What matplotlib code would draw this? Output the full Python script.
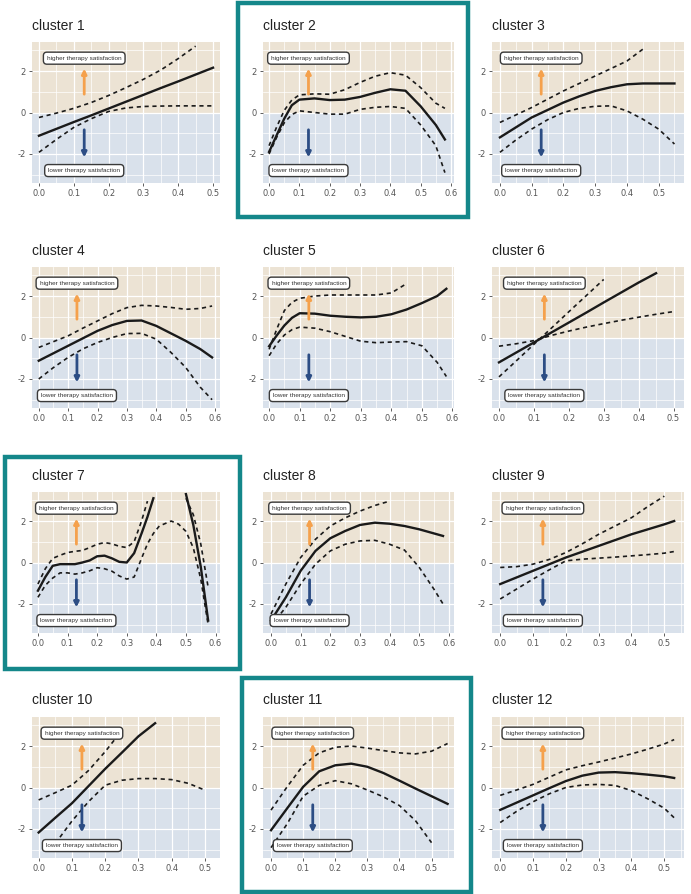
import numpy as np
import matplotlib
matplotlib.use('Agg')
import matplotlib.pyplot as plt
from matplotlib.patches import Rectangle

nan = np.nan

### DATA ###

titles = ['cluster %d' % i for i in range(1, 13)]
highlighted = [2, 7, 11]
y_ticks = [-2, 0, 2]
top_label = 'higher therapy satisfaction'
bottom_label = 'lower therapy satisfaction'

x_c1 = [0.0, 0.05, 0.1, 0.15, 0.2, 0.25, 0.3, 0.35, 0.4, 0.45, 0.5]
est_c1 = [-1.12, -0.79, -0.46, -0.14, 0.19, 0.52, 0.85, 1.18, 1.5, 1.83, 2.16]
lo_c1 = [-1.92, -1.3, -0.72, -0.3, 0.05, 0.22, 0.29, 0.31, 0.32, 0.32, 0.32]
hi_c1 = [-0.24, -0.03, 0.2, 0.48, 0.82, 1.2, 1.6, 2.05, 2.6, 3.2, nan]

x_c2 = [0.0, 0.025, 0.05, 0.075, 0.1, 0.15, 0.2, 0.25, 0.3, 0.35, 0.4, 0.45, 0.5, 0.55, 0.58]
est_c2 = [-1.9, -1.1, -0.3, 0.35, 0.62, 0.68, 0.6, 0.62, 0.75, 0.95, 1.12, 1.05, 0.3, -0.6, -1.3]
lo_c2 = [-2.0, -1.2, -0.5, -0.1, 0.08, 0.0, -0.08, -0.08, 0.15, 0.25, 0.29, 0.2, -0.6, -1.6, -2.9]
hi_c2 = [-1.6, -0.7, 0.1, 0.6, 0.85, 0.9, 0.88, 1.1, 1.45, 1.75, 1.92, 1.8, 1.2, 0.45, 0.2]

x_c3 = [0.0, 0.05, 0.1, 0.15, 0.2, 0.25, 0.3, 0.35, 0.4, 0.45, 0.5, 0.55]
est_c3 = [-1.2, -0.72, -0.24, 0.12, 0.48, 0.78, 1.04, 1.22, 1.36, 1.4, 1.4, 1.4]
lo_c3 = [-1.92, -1.33, -0.8, -0.35, 0.0, 0.2, 0.3, 0.32, 0.08, -0.32, -0.8, -1.52]
hi_c3 = [-0.48, -0.12, 0.24, 0.64, 1.04, 1.4, 1.76, 2.12, 2.48, 3.05, nan, nan]

x_c4 = [0.0, 0.05, 0.1, 0.15, 0.2, 0.25, 0.3, 0.35, 0.4, 0.45, 0.5, 0.55, 0.59]
est_c4 = [-1.12, -0.76, -0.4, -0.04, 0.32, 0.6, 0.8, 0.82, 0.56, 0.2, -0.16, -0.56, -0.96]
lo_c4 = [-2.0, -1.45, -0.96, -0.55, -0.24, 0.0, 0.19, 0.2, -0.08, -0.72, -1.44, -2.4, -3.0]
hi_c4 = [-0.48, -0.2, 0.08, 0.45, 0.8, 1.15, 1.44, 1.55, 1.52, 1.45, 1.36, 1.4, 1.52]

x_c5 = [0.0, 0.025, 0.05, 0.075, 0.1, 0.15, 0.2, 0.25, 0.3, 0.35, 0.4, 0.45, 0.5, 0.55, 0.58]
est_c5 = [-0.42, 0.1, 0.58, 0.95, 1.17, 1.15, 1.05, 1.0, 0.97, 1.0, 1.12, 1.35, 1.66, 2.0, 2.35]
lo_c5 = [-0.88, -0.3, 0.12, 0.38, 0.5, 0.45, 0.28, 0.05, -0.18, -0.25, -0.22, -0.2, -0.4, -1.2, -1.88]
hi_c5 = [-0.57, 0.4, 1.3, 1.7, 1.89, 2.0, 2.05, 2.05, 2.05, 2.05, 2.15, 2.6, nan, nan, nan]

x_c6 = [0.0, 0.05, 0.1, 0.15, 0.2, 0.25, 0.3, 0.35, 0.4, 0.45, 0.5]
est_c6 = [-1.2, -0.72, -0.24, 0.24, 0.72, 1.2, 1.69, 2.17, 2.65, 3.1, nan]
lo_c6 = [-0.42, -0.3, -0.15, 0.1, 0.31, 0.5, 0.67, 0.83, 0.98, 1.12, 1.25]
hi_c6 = [-1.9, -1.12, -0.33, 0.45, 1.24, 2.02, 2.8, nan, nan, nan, nan]

x_c7 = [0.0, 0.025, 0.05, 0.075, 0.1, 0.125, 0.15, 0.175, 0.2, 0.225, 0.25, 0.275,
        0.3, 0.325, 0.35, 0.37, 0.39, 0.41, 0.45, 0.475, 0.5, 0.525, 0.55, 0.575]
est_c7 = [-1.36, -0.7, -0.16, -0.08, -0.08, -0.08, 0.0, 0.1, 0.3, 0.33, 0.2, 0.03,
          0.0, 0.45, 1.4, 2.2, 3.1, nan, nan, nan, 3.3, 1.8, -0.2, -2.8]
lo_c7 = [-1.68, -1.1, -0.75, -0.5, -0.5, -0.56, -0.5, -0.4, -0.25, -0.3, -0.42, -0.65,
         -0.8, -0.7, 0.2, 0.9, 1.4, 1.76, 2.0, 1.85, 1.5, 0.7, -0.8, -3.0]
hi_c7 = [-1.04, -0.3, 0.2, 0.35, 0.48, 0.54, 0.58, 0.72, 0.88, 0.96, 0.9, 0.78,
         0.72, 1.0, 2.0, 2.96, nan, nan, nan, nan, 3.1, 2.3, 0.9, -1.2]

x_c8 = [0.0, 0.05, 0.1, 0.15, 0.2, 0.25, 0.3, 0.35, 0.4, 0.45, 0.5, 0.55, 0.58]
est_c8 = [-2.8, -1.68, -0.4, 0.56, 1.17, 1.52, 1.81, 1.92, 1.87, 1.76, 1.6, 1.4, 1.28]
lo_c8 = [-3.04, -2.16, -1.04, -0.08, 0.56, 0.88, 1.04, 1.07, 0.88, 0.6, -0.24, -1.3, -2.0]
hi_c8 = [-2.48, -1.04, 0.24, 1.12, 1.76, 2.15, 2.48, 2.75, 2.96, nan, nan, nan, nan]

x_c9 = [0.0, 0.05, 0.1, 0.15, 0.2, 0.25, 0.3, 0.35, 0.4, 0.45, 0.5, 0.53]
est_c9 = [-1.04, -0.72, -0.4, -0.08, 0.24, 0.52, 0.8, 1.08, 1.36, 1.6, 1.84, 2.0]
lo_c9 = [-1.76, -1.28, -0.8, -0.35, 0.08, 0.16, 0.21, 0.26, 0.32, 0.38, 0.45, 0.53]
hi_c9 = [-0.24, -0.2, -0.08, 0.15, 0.48, 0.9, 1.36, 1.76, 2.16, 2.7, 3.2, nan]

x_c10 = [0.0, 0.05, 0.1, 0.15, 0.2, 0.25, 0.3, 0.35, 0.4, 0.45, 0.5]
est_c10 = [-2.17, -1.46, -0.76, 0.07, 0.9, 1.68, 2.47, 3.1, nan, nan, nan]
lo_c10 = [nan, -2.7, -1.62, -0.68, 0.11, 0.35, 0.43, 0.43, 0.38, 0.2, -0.13]
hi_c10 = [-0.6, -0.25, 0.11, 0.82, 1.73, 2.75, nan, nan, nan, nan, nan]

x_c11 = [0.0, 0.05, 0.1, 0.15, 0.2, 0.25, 0.3, 0.35, 0.4, 0.45, 0.5, 0.55]
est_c11 = [-2.06, -1.01, 0.03, 0.78, 1.07, 1.15, 1.0, 0.7, 0.33, -0.05, -0.42, -0.79]
lo_c11 = [-2.9, -1.76, -0.42, 0.1, 0.33, 0.18, -0.12, -0.45, -0.87, -1.6, -2.66, nan]
hi_c11 = [-1.09, 0.03, 1.07, 1.67, 1.94, 2.0, 1.9, 1.78, 1.67, 1.62, 1.75, 2.12]

x_c12 = [0.0, 0.05, 0.1, 0.15, 0.2, 0.25, 0.3, 0.35, 0.4, 0.45, 0.5, 0.53]
est_c12 = [-1.08, -0.73, -0.38, -0.03, 0.31, 0.57, 0.72, 0.74, 0.69, 0.62, 0.54, 0.46]
lo_c12 = [-1.69, -1.15, -0.69, -0.3, 0.0, 0.12, 0.15, 0.1, -0.15, -0.55, -1.0, -1.46]
hi_c12 = [-0.38, -0.12, 0.15, 0.5, 0.85, 1.05, 1.23, 1.42, 1.62, 1.85, 2.1, 2.31]

x_max_tick = [0.5, 0.6, 0.5, 0.6, 0.6, 0.5, 0.6, 0.6, 0.5, 0.5, 0.5, 0.5]

### LAYOUT ###

W, H = 691, 894
cols = [(32, 220), (263, 454), (492, 684)]
rows = [(42, 183), (267, 408), (492, 633), (717, 858)]
xlims = [(-0.02, 0.52), (-0.02, 0.61), (-0.025, 0.58), (-0.023, 0.617),
         (-0.02, 0.605), (-0.02, 0.53), (-0.02, 0.615), (-0.027, 0.617),
         (-0.025, 0.56), (-0.02, 0.545), (-0.025, 0.57), (-0.025, 0.56)]
ylim = (-3.4, 3.4)
frames = {2: (238, 3, 468, 217), 7: (5, 457, 240, 669), 11: (242, 678, 471, 892)}

tan = '#ece3d4'
blue = '#d9e1eb'
teal = '#14878a'
orange = '#f5a14c'
navy = '#2c4d84'
arrow_x = 0.13

curves = [(x_c1, est_c1, lo_c1, hi_c1), (x_c2, est_c2, lo_c2, hi_c2),
          (x_c3, est_c3, lo_c3, hi_c3), (x_c4, est_c4, lo_c4, hi_c4),
          (x_c5, est_c5, lo_c5, hi_c5), (x_c6, est_c6, lo_c6, hi_c6),
          (x_c7, est_c7, lo_c7, hi_c7), (x_c8, est_c8, lo_c8, hi_c8),
          (x_c9, est_c9, lo_c9, hi_c9), (x_c10, est_c10, lo_c10, hi_c10),
          (x_c11, est_c11, lo_c11, hi_c11), (x_c12, est_c12, lo_c12, hi_c12)]

narrow = ['Liberation Sans Narrow', 'Liberation Sans', 'DejaVu Sans']

fig = plt.figure(figsize=(W / 100, H / 100), dpi=100)
fig.patch.set_facecolor('white')

for i, (x, est, lo, hi) in enumerate(curves):
    r, c = divmod(i, 3)
    x0, x1 = cols[c]
    y0, y1 = rows[r]
    ax = fig.add_axes([x0 / W, 1 - y1 / H, (x1 - x0) / W, (y1 - y0) / H])
    ax.set_xlim(*xlims[i])
    ax.set_ylim(*ylim)
    # background halves
    ax.axhspan(0, ylim[1], color=tan, lw=0, zorder=0)
    ax.axhspan(ylim[0], 0, color=blue, lw=0, zorder=0)
    ticks = np.round(np.arange(0, x_max_tick[i] + 0.001, 0.1), 1)
    ax.set_xticks(ticks)
    ax.set_xticklabels(['%.1f' % t for t in ticks])
    ax.set_xticks(np.arange(0.05, xlims[i][1], 0.1), minor=True)
    ax.set_yticks(y_ticks)
    ax.set_yticklabels([str(t) for t in y_ticks])
    ax.set_yticks([-3, -1, 1, 3], minor=True)
    ax.grid(True, which='major', color='white', lw=0.9, zorder=1)
    ax.grid(True, which='minor', color='white', lw=0.5, zorder=1)
    ax.set_axisbelow(True)
    for s in ax.spines.values():
        s.set_visible(False)
    ax.tick_params(which='major', length=2.5, width=0.6, color='#444444',
                   labelsize=6, labelcolor='#555555', pad=2)
    ax.tick_params(which='minor', length=0)

    # estimate and confidence band
    ax.plot(x, est, color='#1a1a1a', lw=1.7, zorder=3)
    ax.plot(x, lo, color='#1a1a1a', lw=1.2, ls=(0, (2.5, 2.2)), zorder=3)
    ax.plot(x, hi, color='#1a1a1a', lw=1.2, ls=(0, (2.5, 2.2)), zorder=3)

    # direction arrows and labels
    ax.annotate('', xy=(arrow_x, 2.25), xytext=(arrow_x, 0.75),
                arrowprops=dict(arrowstyle='-|>', color=orange, lw=2.0,
                                mutation_scale=7), zorder=4)
    ax.annotate('', xy=(arrow_x, -2.3), xytext=(arrow_x, -0.7),
                arrowprops=dict(arrowstyle='-|>', color=navy, lw=2.0,
                                mutation_scale=7), zorder=4)
    box = dict(boxstyle='round,pad=0.55', fc='white', ec='#3a3a3a', lw=1.0)
    ax.text(arrow_x, 2.62, top_label, ha='center', va='center', fontsize=4.6,
            family=narrow, color='#333333', bbox=box, zorder=5)
    ax.text(arrow_x, -2.8, bottom_label, ha='center', va='center', fontsize=4.6,
            family=narrow, color='#333333', bbox=box, zorder=5)

    ax.set_title(titles[i], loc='left', fontsize=10, family=narrow,
                 color='#222222', pad=9)

# teal frames around highlighted clusters
for n in highlighted:
    fx0, fy0, fx1, fy1 = frames[n]
    fig.add_artist(Rectangle((fx0 / W, 1 - fy1 / H), (fx1 - fx0) / W, (fy1 - fy0) / H,
                             transform=fig.transFigure, fill=False, ec=teal, lw=3.2))

fig.savefig('out.png', dpi=100)
